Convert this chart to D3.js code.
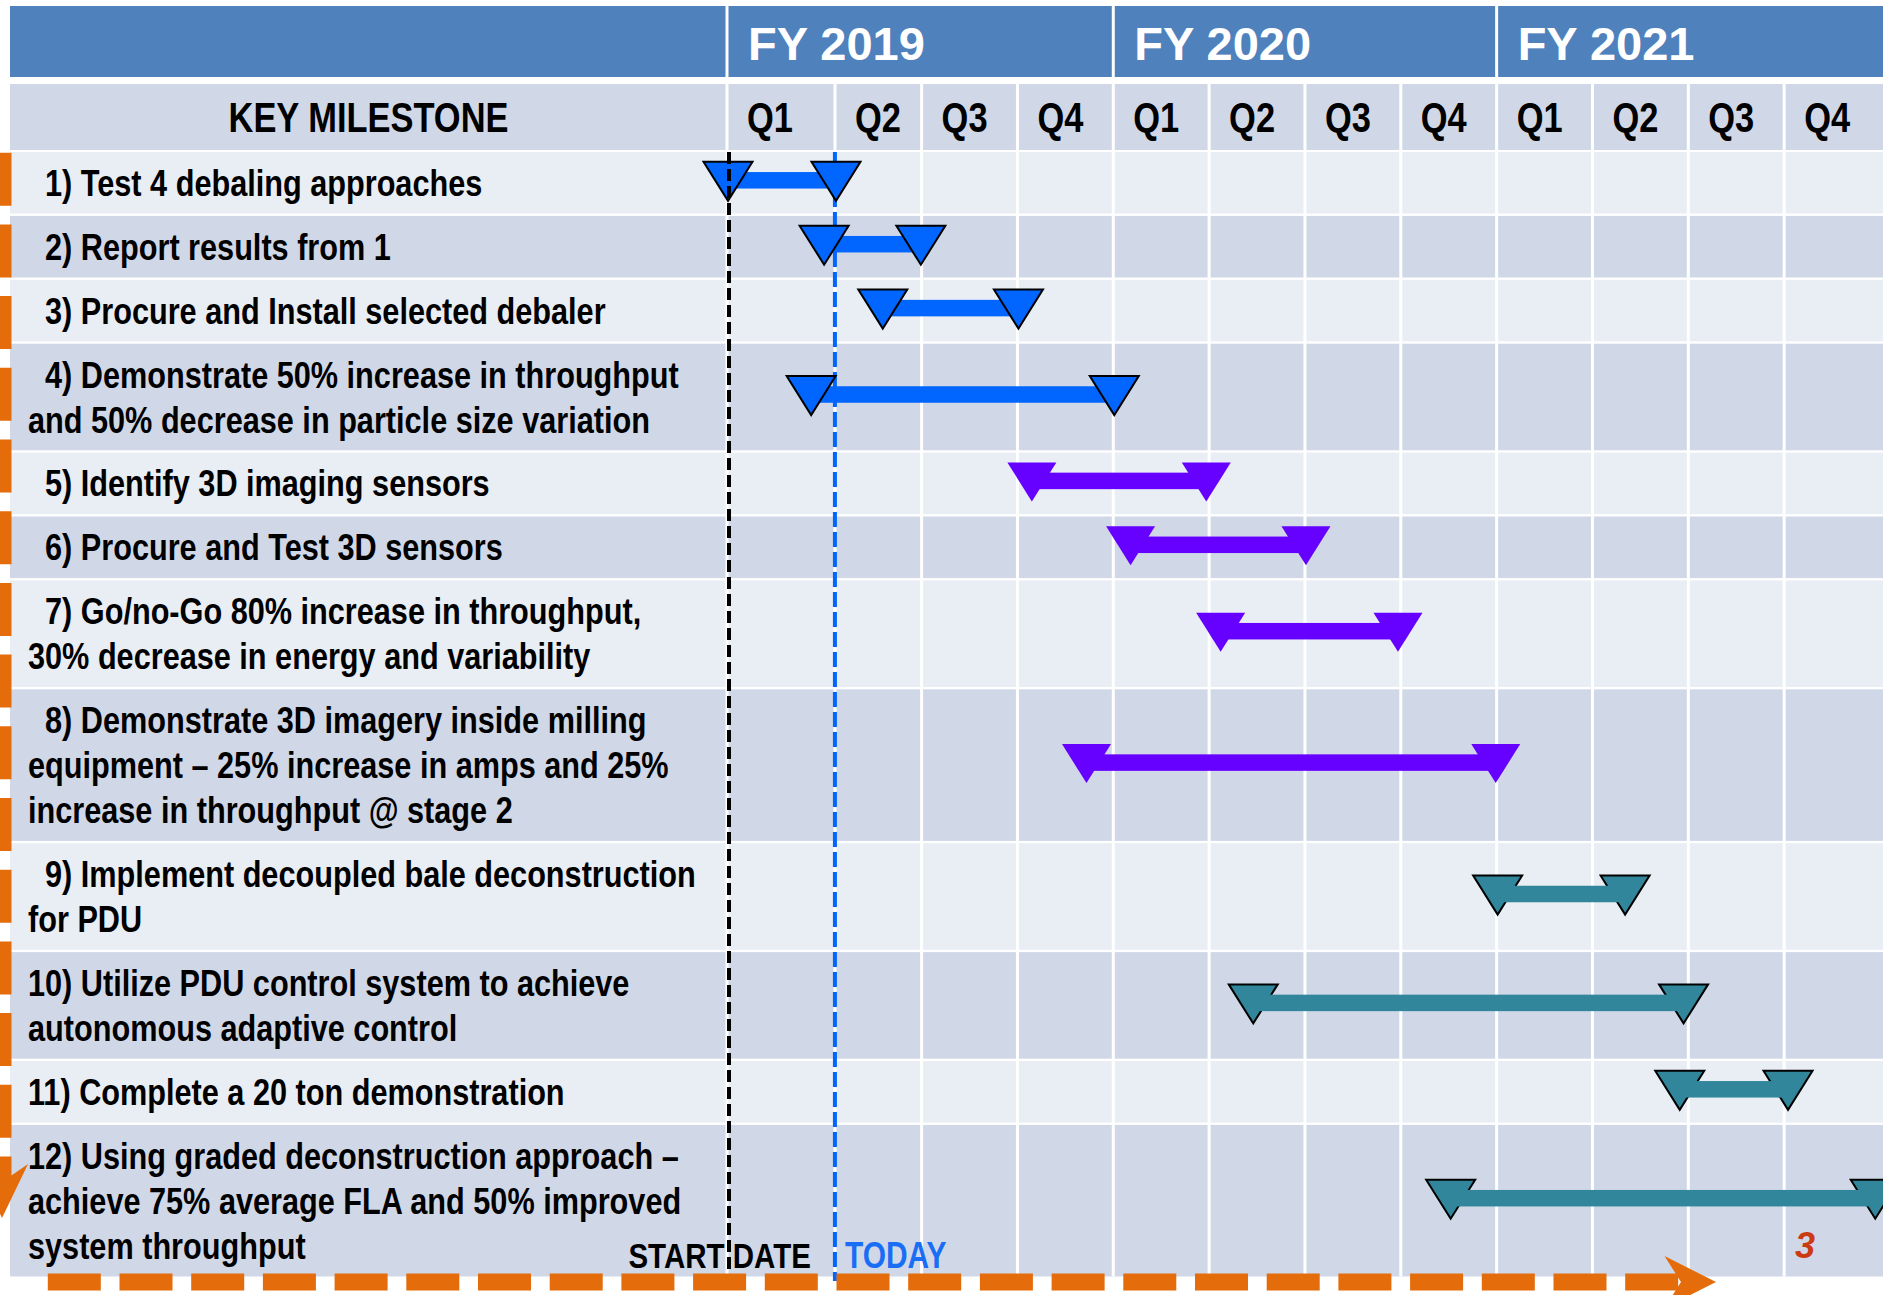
<!DOCTYPE html>
<html><head><meta charset="utf-8">
<script src="https://cdn.jsdelivr.net/npm/d3@7"></script>
<style>
html,body{margin:0;padding:0;background:#fff;}
svg{display:block;}
text{white-space:pre;}
</style></head>
<body>
<svg id="c" width="1883" height="1295" xml:space="preserve"></svg>
<script>
// ---------------- DATA ----------------
const fiscalYears = ["FY 2019", "FY 2020", "FY 2021"];
const quarterLabels = ["Q1","Q2","Q3","Q4","Q1","Q2","Q3","Q4","Q1","Q2","Q3","Q4"];
const headerLabel = "KEY MILESTONE";
const milestoneLabels = [
  ["  1) Test 4 debaling approaches"],
  ["  2) Report results from 1"],
  ["  3) Procure and Install selected debaler"],
  ["  4) Demonstrate 50% increase in throughput", "and 50% decrease in particle size variation"],
  ["  5) Identify 3D imaging sensors"],
  ["  6) Procure and Test 3D sensors"],
  ["  7) Go/no-Go 80% increase in throughput,", "30% decrease in energy and variability"],
  ["  8) Demonstrate 3D imagery inside milling", "equipment \u2013 25% increase in amps and 25%", "increase in throughput @ stage 2"],
  ["  9) Implement decoupled bale deconstruction", "for PDU"],
  ["10) Utilize PDU control system to achieve", "autonomous adaptive control"],
  ["11) Complete a 20 ton demonstration"],
  ["12) Using graded deconstruction approach \u2013", "achieve 75% average FLA and 50% improved", "system throughput"]
];
// start / end of each milestone, in quarters from the start of FY 2019
const milestoneStart = [0.00, 0.89, 1.54, 0.77, 3.14, 4.17, 5.11, 3.71, 8.00, 5.45, 9.90, 7.51];
const milestoneEnd   = [1.00, 1.98, 3.00, 4.00, 4.96, 6.00, 6.96, 7.98, 9.33, 9.94, 11.03, 11.94];
const milestoneGroup = ["blue","blue","blue","blue","purple","purple","purple","purple","teal","teal","teal","teal"];
const startDateQuarter = 0.0;
const todayQuarter = 0.99;
const startDateLabel = "START DATE";
const todayLabel = "TODAY";
const pageNumber = "3";

// ---------------- STYLE / LAYOUT ----------------
const W = 1883, H = 1295;
const COL = {
  headBlue: "#4F81BD", rowDark: "#D0D8E8", rowLight: "#E9EDF4",
  orange: "#E46C0A", today: "#0066FF", todayText: "#1A6EF5", red: "#CC3A12"
};
const groupStyle = {
  blue:   {fill: "#0066FF", stroke: "#000", barOnTop: false},
  purple: {fill: "#6600FF", stroke: "none", barOnTop: true},
  teal:   {fill: "#31869C", stroke: "#000", barOnTop: true}
};
const leftX = 10, labelRight = 727;
const bandTop = 6, bandBottom = 77, qTop = 84, qBottom = 150;
const rowsTop = 152, lineH = 45, rowExtra = 18.9, rowGap = 2.3;

const svg = d3.select("#c");

// font availability check
function hasFont(name) {
  const t = svg.append("text").attr("font-size", 40).attr("font-family", `'${name}', monospace`).text("abcdefghijk KEY MILESTONE");
  const w1 = t.node().getComputedTextLength();
  t.attr("font-family", "monospace");
  const w2 = t.node().getComputedTextLength();
  t.remove();
  return Math.abs(w1 - w2) > 0.5;
}
const narrowOK = hasFont("Liberation Sans Narrow");
const NARROW = narrowOK ? "'Liberation Sans Narrow', 'Arial Narrow', sans-serif" : "'Liberation Sans', Arial, sans-serif";
const SX = narrowOK ? 1 : 0.82;
function ntext(parent, x, y, str, size, opts = {}) {
  return parent.append("text")
    .attr("transform", `translate(${x},${y}) scale(${SX},1)`)
    .attr("font-family", NARROW).attr("font-weight", "bold")
    .attr("font-size", size)
    .attr("fill", opts.fill || "#000")
    .attr("text-anchor", opts.anchor || "start")
    .text(str);
}

// time scale (quarters -> px); the first two quarter columns are drawn unevenly in the original
const x = d3.scaleLinear().domain([0, 1, 2, 12]).range([728, 836, 922.6, 1881]);
const boundaries = d3.range(0, 12);

// row layout
let acc = rowsTop;
const rows = milestoneLabels.map((lines, i) => {
  const pitch = rowExtra + lineH * lines.length;
  const r = {i, top: acc, h: pitch - rowGap, lines,
             start: milestoneStart[i], end: milestoneEnd[i], group: milestoneGroup[i]};
  r.cy = r.top + r.h / 2;
  acc += pitch;
  return r;
});
const rowsBottom = acc - rowGap;

// ---------------- HEADER ----------------
const gHead = svg.append("g");
gHead.append("rect").attr("x", leftX).attr("y", bandTop).attr("width", W - leftX).attr("height", bandBottom - bandTop).attr("fill", COL.headBlue);
gHead.selectAll("line.fy").data([0, 4, 8]).join("line")
  .attr("x1", d => x(d) - 1).attr("x2", d => x(d) - 1).attr("y1", bandTop).attr("y2", bandBottom)
  .attr("stroke", "#fff").attr("stroke-width", 3);
gHead.selectAll("text.fy").data(fiscalYears).join("text")
  .attr("x", (d, i) => x(i * 4) + 20).attr("y", 60)
  .attr("font-family", "'Liberation Sans', Arial, sans-serif").attr("font-weight", "bold")
  .attr("font-size", 47).attr("fill", "#fff").text(d => d);

gHead.append("rect").attr("x", leftX).attr("y", qTop).attr("width", W - leftX).attr("height", qBottom - qTop).attr("fill", COL.rowDark);
gHead.selectAll("line.q").data(boundaries).join("line")
  .attr("x1", d => x(d) - 1).attr("x2", d => x(d) - 1).attr("y1", qTop).attr("y2", qBottom)
  .attr("stroke", "#fff").attr("stroke-width", 3);
quarterLabels.forEach((q, i) => ntext(gHead, x(i) + 19, 132, q, 42));
ntext(gHead, (leftX + labelRight) / 2, 132, headerLabel, 42, {anchor: "middle"});

// ---------------- BODY ----------------
const gBody = svg.append("g");
gBody.selectAll("rect.row").data(rows).join("rect")
  .attr("x", leftX).attr("y", d => d.top).attr("width", W - leftX).attr("height", d => d.h)
  .attr("fill", d => d.i % 2 === 0 ? COL.rowLight : COL.rowDark);
gBody.selectAll("line.grid").data(boundaries).join("line")
  .attr("x1", d => x(d) - 1).attr("x2", d => x(d) - 1).attr("y1", qBottom).attr("y2", rowsBottom)
  .attr("stroke", "#fff").attr("stroke-width", 3);

// milestone labels
rows.forEach(r => {
  const n = r.lines.length;
  r.lines.forEach((ln, j) => {
    ntext(gBody, 28, r.cy + (j - (n - 1) / 2) * lineH + 13, ln, 37.4);
  });
});

// today line (under bars)
svg.append("line")
  .attr("x1", x(todayQuarter)).attr("x2", x(todayQuarter)).attr("y1", rowsTop).attr("y2", 1281)
  .attr("stroke", COL.today).attr("stroke-width", 4).attr("stroke-dasharray", "15,5");

// bars
const gBars = svg.append("g");
const triHalf = 24.5, triUp = 18.5, triDown = 20.5, barH = 16.5;
function triPath(cx, cy) {
  return `M${cx - triHalf},${cy - triUp}L${cx + triHalf},${cy - triUp}L${cx},${cy + triDown}Z`;
}
rows.forEach(r => {
  const st = groupStyle[r.group];
  const g = gBars.append("g");
  const cy = r.cy - 2.5;
  const x1 = x(r.start), x2 = x(r.end);
  const drawBar = () => g.append("rect").attr("x", x1).attr("y", cy - barH / 2)
      .attr("width", x2 - x1).attr("height", barH).attr("fill", st.fill);
  const drawTris = () => g.selectAll(null).data([x1, x2]).join("path")
      .attr("d", d => triPath(d, cy)).attr("fill", st.fill)
      .attr("stroke", st.stroke).attr("stroke-width", 2).attr("stroke-linejoin", "miter");
  if (st.barOnTop) { drawTris(); drawBar(); } else { drawBar(); drawTris(); }
});

// start date line (on top)
svg.append("line")
  .attr("x1", x(startDateQuarter) + 1).attr("x2", x(startDateQuarter) + 1).attr("y1", rowsTop).attr("y2", 1283)
  .attr("stroke", "#000").attr("stroke-width", 4).attr("stroke-dasharray", "12,5");

// ---------------- ORANGE ARROWS ----------------
const gArr = svg.append("g");
gArr.append("line").attr("x1", 47.8).attr("x2", 1680).attr("y1", 1282).attr("y2", 1282)
  .attr("stroke", COL.orange).attr("stroke-width", 17).attr("stroke-dasharray", "53,18.7");
gArr.append("path").attr("d", "M1664.5,1256L1716,1282L1664.5,1308L1681,1282Z").attr("fill", COL.orange);
gArr.append("line").attr("x1", 3).attr("x2", 3).attr("y1", 152.7).attr("y2", 1182)
  .attr("stroke", COL.orange).attr("stroke-width", 17).attr("stroke-dasharray", "53,18.7");
gArr.append("path").attr("d", "M-24,1164L2,1218L28,1164L2,1182Z").attr("fill", COL.orange);

// ---------------- ANNOTATIONS ----------------
ntext(svg, x(todayQuarter) - 24, 1268, startDateLabel, 36, {anchor: "end"});
ntext(svg, x(todayQuarter) + 10, 1268, todayLabel, 36.5, {fill: COL.todayText});
svg.append("text").attr("x", 1795).attr("y", 1258)
  .attr("font-family", "'Liberation Sans', Arial, sans-serif").attr("font-weight", "bold")
  .attr("font-style", "italic").attr("font-size", 36).attr("fill", COL.red).text(pageNumber);
</script>
</body></html>
